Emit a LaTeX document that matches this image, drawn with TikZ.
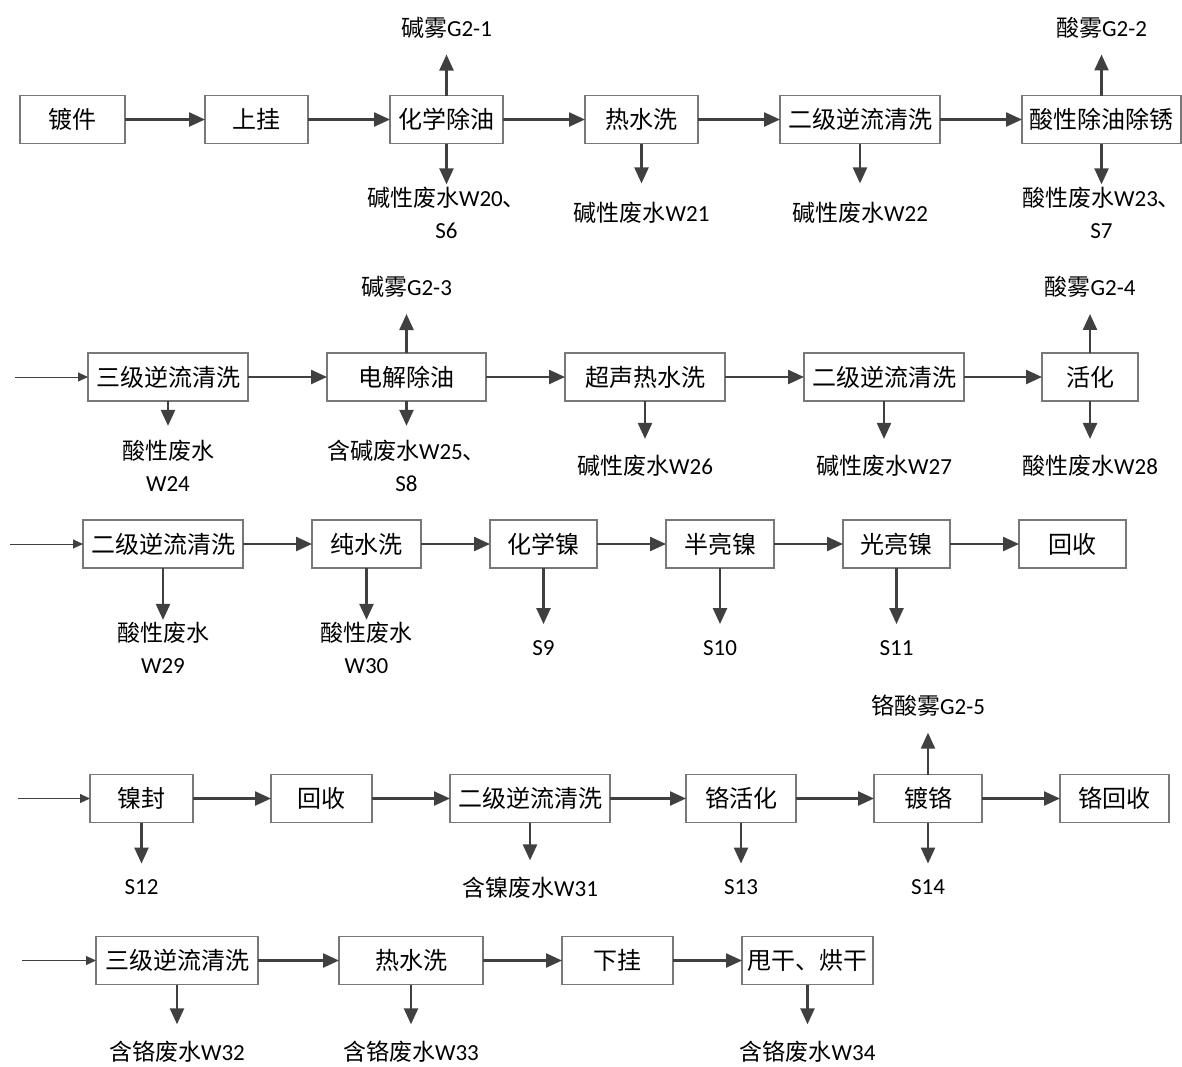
\documentclass[tikz,border=0pt]{standalone}
\usepackage{fontspec}
\setmainfont{Carlito}
\newfontfamily\cjk{Noto Sans CJK SC}
\usetikzlibrary{positioning, arrows.meta}
\newcommand{\zh}[1]{{\cjk #1}}
\definecolor{linegray}{HTML}{404040}
\definecolor{boxgray}{HTML}{787878}

\begin{document}
\begin{tikzpicture}[x=0.5pt, y=-0.5pt,
	proc/.style={rectangle, draw=boxgray, line width=0.6pt, minimum height=24pt, inner sep=1pt, outer sep=0pt, font=\fontsize{12}{14}\selectfont\cjk},
	lab/.style={align=center, inner sep=1pt, font=\fontsize{11.5}{16}\selectfont},
	flow/.style={-{Triangle[length=8pt,width=7pt]}, draw=linegray, line width=1.2pt},
	drain/.style={flow, shorten >=#1}, drain/.default=7pt,
	feed/.style={-{Triangle[length=5pt,width=4.5pt]}, draw=linegray, line width=0.5pt}]
\useasboundingbox (0,0) rectangle (1182,1066);

% row 1
\node[proc, minimum width=52.5pt] (dj) at (72.5,119.5) {镀件};
\node[proc, minimum width=51.5pt, right=40pt of dj] (sg) {上挂};
\node[proc, minimum width=56.5pt, right=41pt of sg] (hxcy) {化学除油};
\node[proc, minimum width=56.5pt, right=41pt of hxcy] (rsx1) {热水洗};
\node[proc, minimum width=80pt, right=41pt of rsx1] (ejnl1) {二级逆流清洗};
\node[proc, minimum width=79.5pt, right=41pt of ejnl1] (sxcy) {酸性除油除锈};

\node[lab, above=34pt of hxcy, anchor=center] (g21) {\zh{碱雾}G2-1};
\node[lab, above=34pt of sxcy, anchor=center] (g22) {\zh{酸雾}G2-2};
\node[lab, below=34.5pt of hxcy, anchor=center] (w20) {\zh{碱性废水}W20\zh{、}\\S6};
\node[lab, below=34.5pt of rsx1, anchor=center] (w21) {\zh{碱性废水}W21};
\node[lab, below=34.5pt of ejnl1, anchor=center] (w22) {\zh{碱性废水}W22};
\node[lab, below=34.5pt of sxcy, anchor=center] (w23) {\zh{酸性废水}W23\zh{、}\\S7};

% row 2
\coordinate (in2) at (15,377);
\node[proc, minimum width=80pt] (sjnl2) at (168,377) {三级逆流清洗};
\node[proc, minimum width=79.5pt, right=39.5pt of sjnl2] (djcy) {电解除油};
\node[proc, minimum width=80pt, right=39.5pt of djcy] (csrsx) {超声热水洗};
\node[proc, minimum width=80pt, right=39.5pt of csrsx] (ejnl2) {二级逆流清洗};
\node[proc, minimum width=48pt, right=39pt of ejnl2] (hh) {活化};

\node[lab, above=33pt of djcy, anchor=center] (g23) {\zh{碱雾}G2-3};
\node[lab, above=33pt of hh, anchor=center] (g24) {\zh{酸雾}G2-4};
\node[lab, below=32.5pt of sjnl2, anchor=center] (w24) {\zh{酸性废水}\\W24};
\node[lab, below=32.5pt of djcy, anchor=center] (w25) {\zh{含碱废水}W25\zh{、}\\S8};
\node[lab, below=32.5pt of csrsx, anchor=center] (w26) {\zh{碱性废水}W26};
\node[lab, below=32.5pt of ejnl2, anchor=center] (w27) {\zh{碱性废水}W27};
\node[lab, below=32.5pt of hh, anchor=center] (w28) {\zh{酸性废水}W28};

% row 3
\coordinate (in3) at (10,544);
\node[proc, minimum width=80pt] (ejnl3) at (163,544) {二级逆流清洗};
\node[proc, minimum width=54.5pt, right=34.5pt of ejnl3] (csx) {纯水洗};
\node[proc, minimum width=53.5pt, right=34.5pt of csx] (hxn) {化学镍};
\node[proc, minimum width=54pt, right=34.5pt of hxn] (bln) {半亮镍};
\node[proc, minimum width=53.5pt, right=34.5pt of bln] (gln) {光亮镍};
\node[proc, minimum width=53.5pt, right=34.5pt of gln] (hs3) {回收};

\node[lab, below=40pt of ejnl3, anchor=center] (w29) {\zh{酸性废水}\\W29};
\node[lab, below=40pt of csx, anchor=center] (w30) {\zh{酸性废水}\\W30};
\node[lab, below=40pt of hxn, anchor=center] (s9) {S9};
\node[lab, below=40pt of bln, anchor=center] (s10) {S10};
\node[lab, below=40pt of gln, anchor=center] (s11) {S11};

% row 4
\coordinate (in4) at (18,798.5);
\node[proc, minimum width=51.5pt] (nf) at (141.5,798.5) {镍封};
\node[proc, minimum width=50.5pt, right=39pt of nf] (hs4) {回收};
\node[proc, minimum width=80pt, right=39pt of hs4] (ejnl4) {二级逆流清洗};
\node[proc, minimum width=55pt, right=38pt of ejnl4] (ghh) {铬活化};
\node[proc, minimum width=54pt, right=39pt of ghh] (dg) {镀铬};
\node[proc, minimum width=54.5pt, right=39pt of dg] (ghs) {铬回收};

\node[lab, above=34.5pt of dg, anchor=center] (g25) {\zh{铬酸雾}G2-5};
\node[lab, below=32.5pt of nf, anchor=center] (s12) {S12};
\node[lab, below=32.5pt of ejnl4, anchor=center] (w31) {\zh{含镍废水}W31};
\node[lab, below=32.5pt of ghh, anchor=center] (s13) {S13};
\node[lab, below=32.5pt of dg, anchor=center] (s14) {S14};

% row 5
\coordinate (in5) at (22,960.5);
\node[proc, minimum width=81pt] (sjnl5) at (177,960.5) {三级逆流清洗};
\node[proc, minimum width=72pt, right=40.5pt of sjnl5] (rsx5) {热水洗};
\node[proc, minimum width=55.5pt, right=39.5pt of rsx5] (xg) {下挂};
\node[proc, minimum width=65.5pt, right=34.5pt of xg] (sgh) {甩干、烘干};

\node[lab, below=33.5pt of sjnl5, anchor=center] (w32) {\zh{含铬废水}W32};
\node[lab, below=33.5pt of rsx5, anchor=center] (w33) {\zh{含铬废水}W33};
\node[lab, below=33.5pt of sgh, anchor=center] (w34) {\zh{含铬废水}W34};

% main flow
\foreach \a/\b in {dj/sg, sg/hxcy, hxcy/rsx1, rsx1/ejnl1, ejnl1/sxcy,
	sjnl2/djcy, djcy/csrsx, csrsx/ejnl2, ejnl2/hh,
	ejnl3/csx, csx/hxn, hxn/bln, bln/gln, gln/hs3,
	nf/hs4, hs4/ejnl4, ejnl4/ghh, ghh/dg, dg/ghs,
	sjnl5/rsx5, rsx5/xg, xg/sgh}
	\draw[flow] (\a) -- (\b);
\foreach \a/\b in {in2/sjnl2, in3/ejnl3, in4/nf, in5/sjnl5}
	\draw[feed] (\a) -- (\b);

% emissions
\foreach \a/\b in {hxcy/g21, sxcy/g22, djcy/g23, hh/g24, dg/g25}
	\draw[drain] (\a) -- (\b);
\foreach \a/\b in {rsx1/w21, ejnl1/w22}
	\draw[drain=8pt] (\a) -- (\b);
\foreach \a/\b in {hxcy/w20, sxcy/w23, ejnl3/w29, csx/w30}
	\draw[drain=0pt] (\a) -- (\b);
\foreach \a/\b in {sjnl2/w24, djcy/w25}
	\draw[drain=6pt] (\a) -- (\b);
\foreach \a/\b in {csrsx/w26, ejnl2/w27, hh/w28, hxn/s9, bln/s10, gln/s11,
	nf/s12, ejnl4/w31, ghh/s13, dg/s14, sjnl5/w32, rsx5/w33, sgh/w34}
	\draw[drain] (\a) -- (\b);
\end{tikzpicture}
\end{document}
